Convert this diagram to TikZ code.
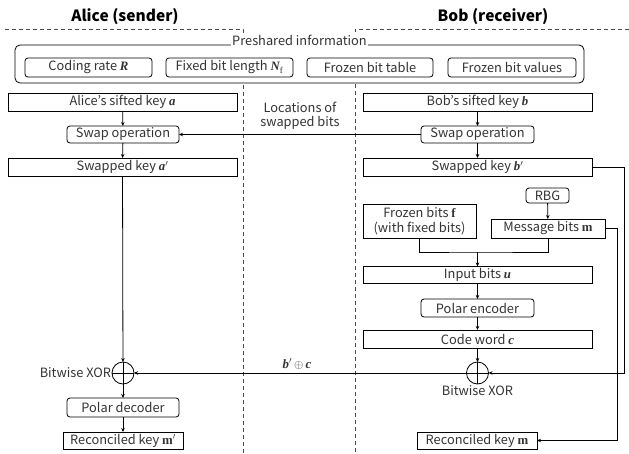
\documentclass[tikz,border=0pt]{standalone}
\usepackage{amsmath}
\usepackage[no-math]{fontspec}
\setmainfont{Noto Sans CJK JP}
\newfontfamily\mlet{Liberation Serif}
\newcommand{\bvi}[1]{{\mlet\bfseries\itshape #1}}
\newcommand{\bvu}[1]{{\mlet\bfseries #1}}
\usetikzlibrary{arrows.meta}
\begin{document}
\begin{tikzpicture}[x=1pt,y=-1pt,
  every node/.style={inner sep=0pt,outer sep=0pt,text=black!80,font=\fontsize{12.8}{14.5}\selectfont},
  sq/.style={draw,line width=0.8pt,rectangle,minimum height=18pt,align=center},
  rb/.style={draw,line width=0.8pt,rectangle,rounded corners=3pt,minimum height=18pt,align=center},
  ttl/.style={font=\fontsize{15.5}{17}\bfseries\selectfont,text=black},
  xorn/.style={draw,line width=0.8pt,circle,minimum size=22pt,path picture={\draw[line width=0.8pt] (path picture bounding box.north) -- (path picture bounding box.south) (path picture bounding box.west) -- (path picture bounding box.east);}},
  conn/.style={line width=0.8pt},
  arr/.style={line width=0.8pt,-{Stealth[length=4pt,width=3.5pt]}},
  sep/.style={dashed,line width=0.8pt,dash pattern=on 4pt off 3pt,draw=black!70}]
\useasboundingbox (0,0) rectangle (629,453);

% titles
\node[ttl] (tA) at (125,17) {Alice (sender)};
\node[ttl] (tB) at (493,17) {Bob (receiver)};

% separators
\coordinate (dA0) at (5,29); \coordinate (dA1) at (243,29); \coordinate (dA2) at (243,453);
\coordinate (dB0) at (629,29); \coordinate (dB1) at (355,29); \coordinate (dB2) at (355,453);
\draw[sep] (dA0) -- (dA1) -- (dA2);
\draw[sep] (dB0) -- (dB1) -- (dB2);

% preshared
\node[draw,line width=0.8pt,fill=white,rounded corners=5pt,minimum width=569pt,minimum height=38pt] (pre) at (299.5,64) {};
\node[fill=white,inner xsep=1pt,inner ysep=0pt,anchor=base] (preL) at (299.5,45.5) {Preshared information};
\node[rb,minimum width=127pt,minimum height=19pt] (cr) at (88.5,67.5) {Coding rate \bvi{R}};
\node[rb,minimum width=127pt,minimum height=19pt] (fl) at (229.5,67.5) {Fixed bit length \bvi{N}$_{\text{\mlet f}}$};
\node[rb,minimum width=126pt,minimum height=19pt] (ft) at (370,67.5) {Frozen bit table};
\node[rb,minimum width=128pt,minimum height=19pt] (fv) at (512,67.5) {Frozen bit values};

% Alice
\node[sq,minimum width=229pt] (ska) at (122.5,102) {Alice's sifted key \bvi{a}};
\node[rb,minimum width=112pt,minimum height=17pt] (swa) at (123,134.5) {Swap operation};
\node[sq,minimum width=229pt] (ka) at (122.5,167) {Swapped key \bvi{a}$'$};
\node[xorn] (xa) at (123,373) {};
\node[anchor=east] (xaL) at (111,373) {Bitwise XOR};
\node[rb,minimum width=112pt,minimum height=19pt] (pd) at (123,407.5) {Polar decoder};
\node[sq,minimum width=120pt,minimum height=17pt] (rka) at (123,440.5) {Reconciled key \bvu{m}$'$};

% Bob
\node[sq,minimum width=229pt] (skb) at (477.5,102) {Bob's sifted key \bvi{b}};
\node[rb,minimum width=113pt,minimum height=17pt] (swb) at (477.5,134.5) {Swap operation};
\node[sq,minimum width=229pt] (kb) at (477.5,167) {Swapped key \bvi{b}$'$};
\node[rb,minimum width=43pt,minimum height=15pt] (rbg) at (547.5,195.5) {RBG};
\node[sq,minimum width=114pt,minimum height=19pt] (mb) at (548,228.5) {Message bits \bvu{m}};
\node[sq,minimum width=113pt,minimum height=34pt] (fb) at (419.5,221) {Frozen bits \bvu{f}\\(with fixed bits)};
\node[sq,minimum width=229pt,minimum height=17pt] (ib) at (477.5,275) {Input bits \bvi{u}};
\node[rb,minimum width=113pt] (pe) at (477.5,308) {Polar encoder};
\node[sq,minimum width=229pt] (cw) at (477.5,339) {Code word \bvi{c}};
\node[xorn] (xb) at (477.5,373) {};
\node[anchor=north] (xbL) at (477.5,386) {Bitwise XOR};
\node[sq,minimum width=120pt,minimum height=17pt] (rkb) at (477,440.5) {Reconciled key \bvu{m}};

% connectors Alice
\draw[arr] (ska) -- (swa);
\draw[arr] (swa) -- (ka);
\draw[arr] (ka) -- (xa);
\draw[arr] (xa) -- (pd);
\draw[arr] (pd) -- (rka);

% connectors Bob
\draw[arr] (skb) -- (swb);
\draw[arr] (swb) -- (kb);
\draw[arr] (swb.west) -- node[pos=0.5,above=5pt,align=center] (locL) {Locations of\\swapped bits} (swa.east);
\coordinate (kbR) at (624,167);
\draw[arr] (kb.east) -- (kbR) |- (xb.east);
\draw[arr] (rbg) -- (mb);
\coordinate (mR) at (617,228.5);
\draw[arr] (mb.east) -- (mR) |- (rkb.east);
\coordinate (jn) at (477.5,252);
\draw[conn] (fb.south) |- (jn) -| (mb.south);
\draw[arr] (jn) -- (ib.north);
\draw[arr] (ib) -- (pe);
\draw[arr] (pe) -- (cw);
\draw[arr] (cw) -- (xb);
\draw[arr] (xb.west) -- (xa.east);
\node (bcL) at (297,364) {\bvi{b}$'$\,$\oplus$\,\bvi{c}};
\end{tikzpicture}
\end{document}
